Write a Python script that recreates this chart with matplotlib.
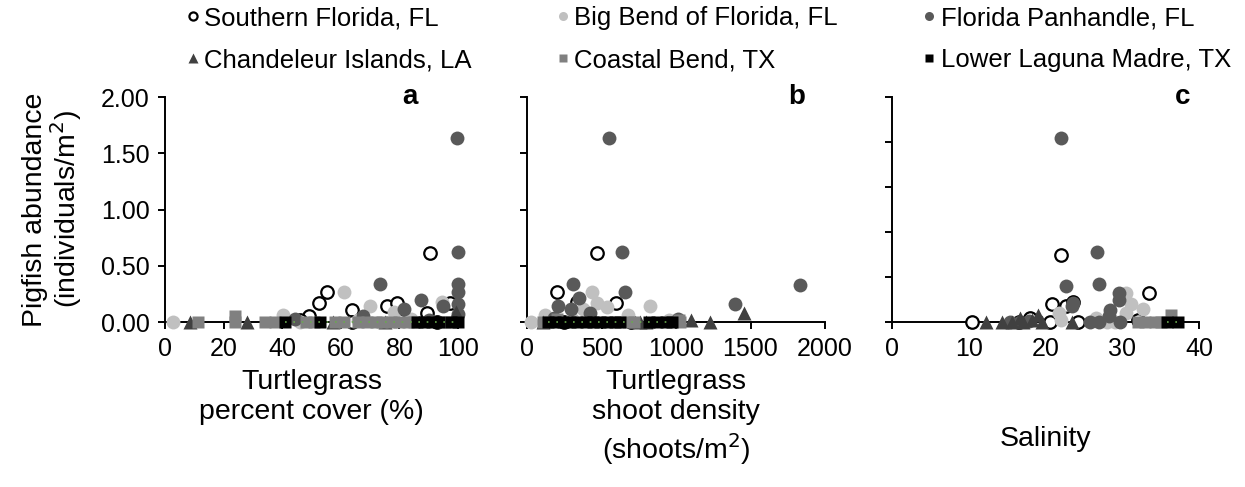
import numpy as np
import matplotlib

matplotlib.use("Agg")
import matplotlib.pyplot as plt
from matplotlib.lines import Line2D

plt.rcParams["font.family"] = ["Liberation Sans", "DejaVu Sans"]

SITES = [
    "Southern Florida, FL",
    "Big Bend of Florida, FL",
    "Florida Panhandle, FL",
    "Chandeleur Islands, LA",
    "Coastal Bend, TX",
    "Lower Laguna Madre, TX",
]

# panel a: turtlegrass percent cover
SF_COVER = [90.4, 55.2, 52.7, 63.7, 75.7, 79.3, 89.3, 97.3, 49.3, 46.0, 63.7, 80.0, 93.0]
SF_COVER_Y = [0.61, 0.27, 0.17, 0.11, 0.14, 0.17, 0.08, 0.17, 0.05, 0.02, 0.0, 0.02, 0.0]
BB_COVER = [2.8, 40.4, 46.0, 61.2, 70.0, 78.0, 94.4, 84.0, 66.0]
BB_COVER_Y = [0.0, 0.06, 0.0, 0.27, 0.14, 0.09, 0.18, 0.03, 0.02]
FP_COVER = [99.5, 100, 100, 100, 100, 73.4, 87.3, 81.7, 95.0, 67.6, 44.4, 100, 90.0]
FP_COVER_Y = [1.64, 0.62, 0.34, 0.27, 0.16, 0.34, 0.20, 0.12, 0.14, 0.05, 0.03, 0.07, 0.02]
CI_COVER = [8.5, 27.9, 57.5, 99.4, 75.0]
CI_COVER_Y = [0.0, 0.0, 0.0, 0.09, 0.0]
CB_COVER = [11.3, 24.0, 24.0, 34.0, 37.5, 48.0, 51.0, 58.0, 61.0, 66.0, 69.0, 72.0,
            74.0, 77.0, 80.0, 83.0, 85.0, 95.5]
CB_COVER_Y = [0.0, 0.0, 0.05, 0.0, 0.0, 0.0, 0.0, 0.0, 0.0, 0.0, 0.0, 0.0,
              0.0, 0.0, 0.0, 0.0, 0.0, 0.0]
LLM_COVER = [41.0, 53.0, 86.0, 88.5, 91.0, 93.5, 97.5, 100]
LLM_COVER_Y = [0.0, 0.0, 0.0, 0.0, 0.0, 0.0, 0.0, 0.0]

# panel b: shoot density
SF_DENS = [468, 199, 597, 334, 250, 700]
SF_DENS_Y = [0.61, 0.27, 0.17, 0.18, 0.0, 0.0]
BB_DENS = [25, 434, 468, 826, 540, 379, 121, 681, 300, 950]
BB_DENS_Y = [0.0, 0.27, 0.17, 0.14, 0.13, 0.12, 0.06, 0.06, 0.03, 0.02]
FP_DENS = [553, 636, 1834, 1398, 311, 659, 351, 210, 293, 423, 1016, 180]
FP_DENS_Y = [1.64, 0.62, 0.33, 0.16, 0.34, 0.27, 0.21, 0.14, 0.12, 0.08, 0.03, 0.04]
CI_DENS = [108, 760, 800, 1100, 1225, 1454]
CI_DENS_Y = [0.0, 0.0, 0.0, 0.02, 0.0, 0.08]
CB_DENS = [108, 200, 680, 720, 1028, 1020]
CB_DENS_Y = [0.0, 0.03, 0.0, 0.0, 0.0, 0.02]
LLM_DENS = [140, 190, 240, 290, 335, 395, 440, 490, 540, 590, 625, 820, 870, 930, 975]
LLM_DENS_Y = [0.0] * 15

# panel c: salinity
SF_SAL = [22.0, 33.5, 20.9, 22.7, 10.5, 18.0, 16.5, 20.6, 24.2, 32.0, 23.6]
SF_SAL_Y = [0.60, 0.26, 0.16, 0.14, 0.0, 0.04, 0.0, 0.0, 0.0, 0.02, 0.18]
BB_SAL = [30.5, 31.1, 32.7, 30.5, 21.7, 22.0, 26.6, 29.0, 28.0]
BB_SAL_Y = [0.26, 0.16, 0.12, 0.08, 0.08, 0.02, 0.04, 0.0, 0.0]
FP_SAL = [22.0, 26.7, 22.7, 27.0, 23.6, 29.6, 29.6, 28.4, 28.2, 25.8, 29.7, 23.4,
          27.0, 15.4, 16.7, 17.8]
FP_SAL_Y = [1.64, 0.62, 0.32, 0.34, 0.17, 0.26, 0.20, 0.11, 0.05, 0.0, 0.0, 0.14,
            0.0, 0.0, 0.0, 0.01]
CI_SAL = [12.2, 14.3, 15.6, 16.7, 17.1, 18.3, 19.0, 19.5, 23.4]
CI_SAL_Y = [0.0, 0.0, 0.0, 0.04, 0.0, 0.02, 0.06, 0.0, 0.0]
CB_SAL = [32.0, 33.0, 34.2, 35.0, 36.3]
CB_SAL_Y = [0.0, 0.0, 0.0, 0.0, 0.06]
LLM_SAL = [35.8, 37.2]
LLM_SAL_Y = [0.0, 0.0]

STYLES = [
    dict(marker="o", mfc="white", mec="black", mew=1.6, ms=9),
    dict(marker="o", mfc="#c0c0c0", mec="none", ms=10),
    dict(marker="o", mfc="#595959", mec="none", ms=10),
    dict(marker="^", mfc="#404040", mec="none", ms=10.5),
    dict(marker="s", mfc="#808080", mec="none", ms=9),
    dict(marker="s", mfc="black", mec="none", ms=9),
]

PANELS = [
    dict(
        data=[(SF_COVER, SF_COVER_Y), (BB_COVER, BB_COVER_Y), (FP_COVER, FP_COVER_Y),
              (CI_COVER, CI_COVER_Y), (CB_COVER, CB_COVER_Y), (LLM_COVER, LLM_COVER_Y)],
        xlim=(0, 100), xticks=np.arange(0, 101, 20), yticks=np.arange(0, 2.01, 0.5),
        label="Turtlegrass\npercent cover (%)", label_y=-0.21, letter="a", letter_x=0.836,
    ),
    dict(
        data=[(SF_DENS, SF_DENS_Y), (BB_DENS, BB_DENS_Y), (FP_DENS, FP_DENS_Y),
              (CI_DENS, CI_DENS_Y), (CB_DENS, CB_DENS_Y), (LLM_DENS, LLM_DENS_Y)],
        xlim=(0, 2000), xticks=np.arange(0, 2001, 500), yticks=np.arange(0, 2.01, 0.5),
        label="Turtlegrass\nshoot density\n(shoots/m$^2$)", label_y=-0.21, letter="b",
        letter_x=0.906,
    ),
    dict(
        data=[(SF_SAL, SF_SAL_Y), (BB_SAL, BB_SAL_Y), (FP_SAL, FP_SAL_Y),
              (CI_SAL, CI_SAL_Y), (CB_SAL, CB_SAL_Y), (LLM_SAL, LLM_SAL_Y)],
        xlim=(0, 40), xticks=np.arange(0, 41, 10), yticks=np.arange(0, 2.01, 0.4),
        label="Salinity", label_y=-0.46, letter="c", letter_x=0.947,
    ),
]

fig = plt.figure(figsize=(12.45, 4.87), dpi=100)
boxes = [
    [165 / 1245, 0.3388, 293 / 1245, 0.462],
    [527 / 1245, 0.3388, 298 / 1245, 0.462],
    [891.7 / 1245, 0.3388, 307.6 / 1245, 0.462],
]

for i, (box, p) in enumerate(zip(boxes, PANELS)):
    ax = fig.add_axes(box)
    for (xs, ys), st in zip(p["data"], STYLES):
        ax.plot(xs, ys, ls="none", clip_on=False, zorder=3, **st)
    llm_x = p["data"][5][0]
    ax.plot([min(llm_x), max(llm_x)], [0, 0], ls=(0, (1, 4)), color="#6aa84f",
            lw=1.2, clip_on=False, zorder=4)
    ax.set_xlim(*p["xlim"])
    ax.set_ylim(0, 2)
    ax.set_xticks(p["xticks"])
    ax.set_yticks(p["yticks"])
    ax.spines[["top", "right"]].set_visible(False)
    for s in ["left", "bottom"]:
        ax.spines[s].set_linewidth(1.4)
    ax.tick_params(direction="out", length=5, width=1.4, labelsize=18, pad=6)
    if i == 0:
        ax.set_yticklabels([f"{v:.2f}" for v in p["yticks"]])
        ax.set_ylabel("Pigfish abundance\n(individuals/m$^2$)", fontsize=20.5,
                      linespacing=1.0, labelpad=12)
    else:
        ax.set_yticklabels([])
    ax.set_xlabel(p["label"], fontsize=20.5, linespacing=1.2, va="top")
    ax.xaxis.set_label_coords(0.5, p["label_y"])
    ax.text(p["letter_x"], 1.0, p["letter"], transform=ax.transAxes, ha="center",
            va="center", fontsize=20, fontweight="bold")

handles = [Line2D([], [], ls="none", **{**st, "ms": st["ms"] * 0.65}) for st in STYLES]
order = [0, 3, 1, 4, 2, 5]
fig.legend([handles[k] for k in order], [SITES[k] for k in order], ncol=3,
           loc="upper left", bbox_to_anchor=(0.131, 1.035), frameon=False,
           fontsize=18.5, handlelength=0.5, handletextpad=0.2, columnspacing=3.3,
           labelspacing=0.7)

fig.savefig("out.png", dpi=100)
